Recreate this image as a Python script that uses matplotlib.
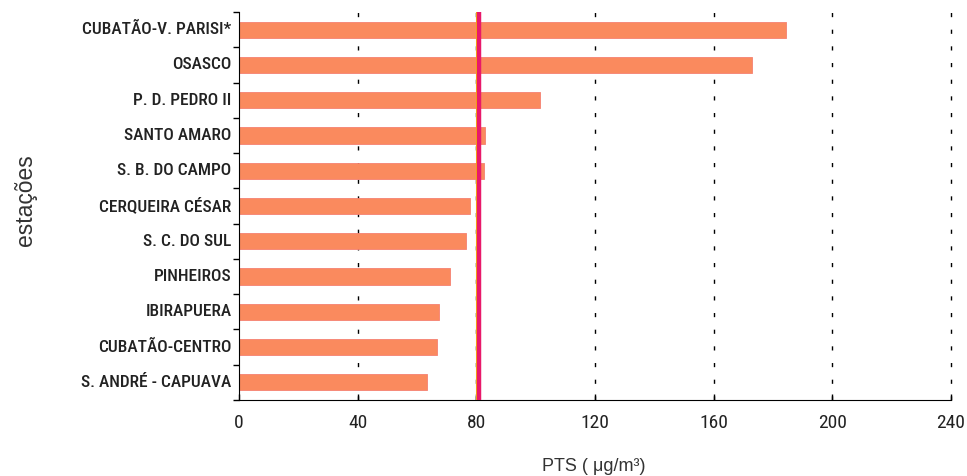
import matplotlib

matplotlib.use("Agg")
import matplotlib.pyplot as plt
import numpy as np
from matplotlib import font_manager

# Stations (top to bottom) and PTS values (ug/m3)
stations = [
    "CUBATÃO-V. PARISI*", "OSASCO", "P. D. PEDRO II", "SANTO AMARO",
    "S. B. DO CAMPO", "CERQUEIRA CÉSAR", "S. C. DO SUL", "PINHEIROS",
    "IBIRAPUERA", "CUBATÃO-CENTRO", "S. ANDRÉ - CAPUAVA",
]
pts = [184.5, 173.0, 101.5, 83.0, 82.5, 78.0, 76.5, 71.0, 67.5, 66.8, 63.5]
standard = 81.0
xticks = [0, 40, 80, 120, 160, 200, 240]

# pick a narrow family if one is installed
fonts = font_manager.fontManager.ttflist
names = {f.name for f in fonts}
cond = "DejaVu Sans"
for cand in ["Roboto Condensed", "Liberation Sans Narrow", "DejaVu Sans Condensed"]:
    if cand in names:
        cond = cand
        break
lab = dict(family=cond, fontstretch="condensed")
plain = "Liberation Sans" if "Liberation Sans" in names else "DejaVu Sans"

fig = plt.figure(figsize=(9.67, 4.76), dpi=100)
ax = fig.add_axes([0.247, 0.1597, 0.7365, 0.8151])

y = np.arange(len(stations))
ax.barh(y, pts, height=0.46, color="#FA8A5E", edgecolor="#F58070", lw=0.6, zorder=2)

for xv in xticks[1:]:
    ax.axvline(xv, color="black", lw=1.0, dashes=(3, 9), zorder=1, clip_on=False)

ax.axvline(standard - 0.9, color="#F5C000", lw=1.5, zorder=3)
ax.axvline(standard, color="#E8186A", lw=3.2, zorder=4)

ax.set_xlim(0, 240)
ax.set_ylim(10.5, -0.5)
ax.set_xticks(xticks)
ax.set_xticklabels([str(v) for v in xticks], fontsize=14, color="#222222", **lab)
ax.set_yticks(np.append(y - 0.5, 10.5))
ax.set_yticklabels([])
for yi, name in zip(y, stations):
    ax.text(-2.5, yi, name, ha="right", va="center", fontsize=12.5,
            color="#222222", weight="medium", **lab)

ax.tick_params(axis="y", length=4, width=1, direction="out")
ax.tick_params(axis="x", length=4, width=1, direction="in", pad=10)
for s in ("top", "right"):
    ax.spines[s].set_visible(False)

fig.text(0.026, 0.58, "estações", rotation=90, ha="center", va="center",
         fontsize=16.5, color="#333333", family=plain)
fig.text(0.614, 0.021, "PTS ( μg/m³)", ha="center", va="center",
         fontsize=13, color="#333333", family=plain)

fig.savefig("out.png", dpi=100)
